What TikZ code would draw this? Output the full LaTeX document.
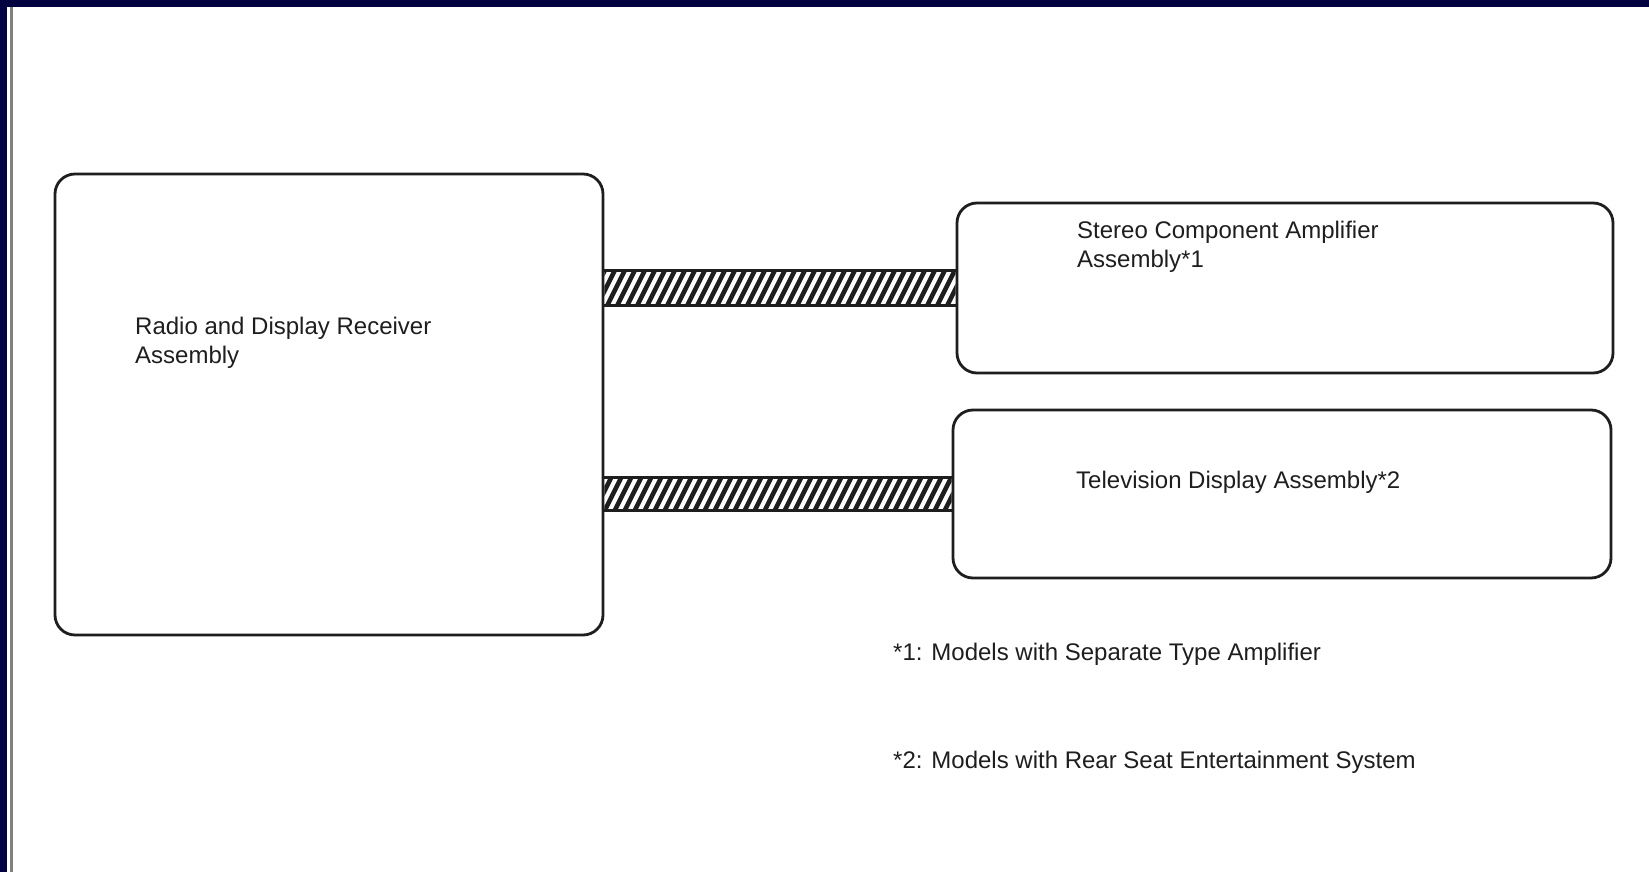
\documentclass[tikz,border=0pt]{standalone}
\usepackage{fontspec}
\setmainfont{Liberation Sans}
\usetikzlibrary{calc}
\definecolor{navy}{RGB}{2,2,64}
\definecolor{ink}{RGB}{30,30,30}
\definecolor{edge}{RGB}{128,128,128}
\begin{document}
\begin{tikzpicture}[x=1pt,y=-1pt,
  box/.style={draw=ink,line width=2.8pt,rounded corners=20pt,inner sep=0pt,fill=white},
  lbl/.style={anchor=base west,inner sep=0pt,text=ink,font=\fontsize{24}{28.5}\selectfont,align=left},
  note/.style={anchor=base west,inner sep=0pt,text=ink,font=\fontsize{24}{28}\selectfont},
  hatchline/.style={draw=ink,line width=4.6pt},
  bandedge/.style={draw=ink,line width=2.8pt}]
\useasboundingbox (0,0) rectangle (1649,872);
\fill[white] (0,0) rectangle (1649,872);
% frame
\fill[navy] (0,0) rectangle (1649,7);
\fill[navy] (0,0) rectangle (7,872);
\fill[edge] (10,7) rectangle (13,872);
% boxes
\node[box,minimum width=548pt,minimum height=461pt] (radio) at (329,404.5) {};
\node[box,minimum width=656pt,minimum height=170pt] (amp) at (1285,288) {};
\node[box,minimum width=658pt,minimum height=168pt] (tv) at (1282,494) {};
% labels (base anchor = last line)
\node[lbl] (radiotxt) at (135,363) {Radio and Display Receiver\\Assembly};
\node[lbl] (amptxt) at (1077,267) {Stereo Component Amplifier\\Assembly*1};
\node[lbl] (tvtxt) at (1076,488) {Television Display Assembly*2};
\node[note] (note1) at (893,660) {*1: Models with Separate Type Amplifier};
\node[note] (note2) at (893,768) {*2: Models with Rear Seat Entertainment System};
% hatched connectors
\foreach \tgt/\hh in {amp/17.5,tv/16.5}{
  \coordinate (s) at ($(radio.east |- \tgt.west)$);
  \begin{scope}
    \clip ($(s)+(0,-\hh)$) rectangle ($(\tgt.west)+(0,\hh)$);
    \foreach \x in {400,410,...,1000}
      \draw[hatchline] (\x,560) -- ++(160,-320);
  \end{scope}
  \draw[bandedge] ($(s)+(0,-\hh)$) -- ($(\tgt.west)+(0,-\hh)$);
  \draw[bandedge] ($(s)+(0,\hh)$) -- ($(\tgt.west)+(0,\hh)$);
}
\end{tikzpicture}
\end{document}
